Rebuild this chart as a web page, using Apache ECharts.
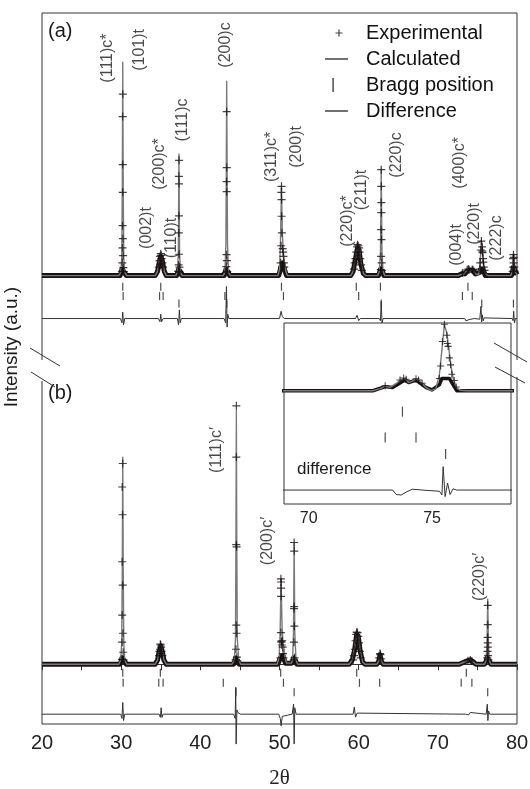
<!DOCTYPE html>
<html>
<head>
<meta charset="utf-8">
<script src="https://cdn.jsdelivr.net/npm/echarts@6/dist/echarts.min.js"></script>
<style>
html, body { margin: 0; padding: 0; background: #fff; }
#chart { width: 530px; height: 789px; }
</style>
</head>
<body>
<div id="chart"></div>
<script>
// ---- data (2θ in degrees, intensity in a.u., baseline = 0) ----

// panel (a): calculated profile
const calcA = [
  [20, 0], [29.7, 0], [29.95, 1.5], [30.07, 8], [30.14, 40], [30.2, 100], [30.26, 40], [30.33, 8], [30.45, 1.5], [30.7, 0],
  [34.3, 0], [34.6, 2], [34.85, 8], [35.0, 10], [35.2, 7], [35.45, 2], [35.7, 0],
  [36.9, 0], [37.1, 1.5], [37.22, 10], [37.3, 57], [37.38, 10], [37.5, 1.5], [37.7, 0],
  [42.9, 0], [43.1, 1.5], [43.23, 15], [43.33, 91], [43.43, 15], [43.56, 1.5], [43.8, 0],
  [49.8, 0], [50.0, 3], [50.12, 15], [50.25, 42], [50.36, 20], [50.48, 11], [50.6, 7], [50.8, 2], [51.0, 0],
  [59.0, 0], [59.3, 2], [59.6, 8], [59.85, 14.5], [60.05, 13.5], [60.3, 6], [60.6, 1], [60.9, 0],
  [62.4, 0], [62.62, 2], [62.76, 12], [62.85, 50], [62.94, 12], [63.08, 2], [63.3, 0],
  [72.6, 0], [72.9, 0.5], [73.1, 1.1], [73.3, 0.8], [73.55, 1.8], [73.75, 2.7], [73.9, 3.0], [74.05, 2.0], [74.15, 2.2],
  [74.35, 2.8], [74.5, 2.4], [74.75, 0.8], [74.95, 0.1], [75.15, 0.4], [75.3, 4], [75.4, 10], [75.5, 16.1], [75.6, 14],
  [75.67, 10.8], [75.77, 6], [75.87, 2.6], [76.0, 0.7], [76.15, 0.1], [76.4, 0],
  [79.2, 0], [79.4, 1.5], [79.5, 6], [79.58, 10], [79.68, 6], [79.8, 1.5], [80, 0.5]
];
// panel (a): experimental points on the peaks
const expA = [
  [30.21, 85], [30.19, 74.5], [30.2, 52], [30.2, 39], [30.18, 23.4], [30.22, 17.3], [30.17, 13], [30.24, 9.4], [30.15, 6], [30.28, 3.7], [30.1, 2], [30.35, 1.9],
  [34.75, 4], [34.85, 7], [34.9, 9], [35.0, 10.3], [35.05, 9.5], [35.1, 8], [35.2, 6], [35.3, 4], [34.95, 5],
  [37.31, 54], [37.29, 46.5], [37.31, 43], [37.3, 28], [37.28, 20], [37.32, 10], [37.26, 5], [37.36, 4], [37.2, 2], [37.42, 1.5],
  [43.33, 76.8], [43.34, 50.6], [43.32, 44], [43.33, 39.3], [43.31, 9.8], [43.36, 7], [43.29, 4.2], [43.4, 2], [43.22, 1.5],
  [50.25, 41.8], [50.24, 39], [50.26, 35.6], [50.27, 27.8], [50.3, 20], [50.4, 12.6], [50.45, 11], [50.5, 9], [50.2, 14], [50.15, 6], [50.55, 6], [50.6, 4],
  [59.5, 6], [59.6, 8], [59.7, 11], [59.8, 13.5], [59.85, 14.5], [59.95, 14], [60.05, 13], [60.1, 11], [60.2, 8], [60.3, 5], [59.4, 3], [60.4, 2.5],
  [62.85, 49.6], [62.86, 41.8], [62.85, 34.2], [62.87, 29.5], [62.84, 21.5], [62.88, 16.9], [62.83, 9], [62.9, 6], [62.8, 2.8], [62.95, 2.5],
  [73.1, 1.2], [73.7, 2.6], [73.85, 3.1], [73.95, 2.8], [74.35, 2.9], [74.45, 2.6], [74.6, 1.8],
  [75.5, 16.2], [75.42, 12], [75.6, 13.5], [75.62, 11.5], [75.65, 10.8], [75.7, 8], [75.75, 6.3], [75.8, 4], [75.9, 2.5], [75.98, 0.9], [75.35, 6], [75.3, 3],
  [79.55, 9.8], [79.5, 8], [79.6, 8.5], [79.57, 6], [79.52, 4], [79.65, 4], [79.45, 2], [79.7, 2]
];
// panel (a): dense experimental band along the background
const bandA = [
  [20, 0], [29.85, 0], [30.0, 1.5], [30.1, 3], [30.35, 3], [30.5, 1], [30.65, 0],
  [34.3, 0], [34.6, 2], [34.85, 7], [35.0, 9], [35.2, 7], [35.45, 2], [35.7, 0],
  [37.0, 0], [37.15, 1.5], [37.25, 3], [37.45, 3], [37.55, 1.5], [37.7, 0],
  [43.0, 0], [43.15, 1.5], [43.25, 3], [43.45, 3], [43.55, 1.5], [43.7, 0],
  [49.9, 0], [50.05, 2], [50.15, 4], [50.4, 6], [50.55, 4], [50.7, 2], [50.9, 0],
  [59.0, 0], [59.3, 2], [59.55, 7], [59.85, 13], [60.05, 12], [60.3, 5], [60.6, 1], [60.9, 0],
  [62.5, 0], [62.65, 1.5], [62.75, 3], [62.95, 3], [63.05, 1.5], [63.2, 0],
  [72.6, 0], [73.1, 1], [73.4, 0.8], [73.9, 2.6], [74.05, 2], [74.35, 2.6], [74.75, 0.8], [75.0, 0.2],
  [75.3, 1.5], [75.4, 3], [75.7, 3], [75.85, 1.5], [76.0, 0],
  [79.3, 0], [79.45, 2], [79.55, 4], [79.7, 4], [79.8, 2], [80, 0.5]
];
// panel (a): difference (obs - calc)
const diffA = [
  [20, 0], [29.9, 0], [30.1, -2], [30.2, 3], [30.3, -3], [30.45, 0],
  [34.7, 0], [34.9, -1.5], [35.0, 2], [35.1, -1.5], [35.3, 0],
  [37.1, 0], [37.25, -3], [37.35, 4], [37.45, -2], [37.6, 0],
  [43.0, 0], [43.2, -2], [43.3, 15], [43.38, -4], [43.47, 2], [43.6, 0],
  [50.0, 0], [50.2, 3.4], [50.35, 1], [50.6, 0],
  [59.6, 0], [59.8, 1.5], [60.0, -1], [60.2, 0],
  [62.6, 0], [62.75, -1], [62.85, 8], [62.95, -2], [63.1, 0],
  [73.4, 0], [73.55, -1.1], [73.75, -1.2], [73.95, -0.5], [74.2, 0.2], [74.6, 0],
  [75.3, -0.3], [75.4, -1.2], [75.45, 5.7], [75.53, -1.6], [75.63, 1.7], [75.73, -1.1], [75.85, 0.3], [76.0, 0],
  [79.4, 0], [79.5, -1], [79.58, 3.4], [79.68, -2], [79.8, 0], [80, 0]
];
// panel (a): Bragg positions, three phases (c*, t, c)
const braggA1 = [30.2, 35.0, 50.25, 59.7, 62.75, 73.8];
const braggA2 = [30.25, 34.85, 35.3, 43.1, 50.5, 60.0, 73.1, 74.35];
const braggA3 = [37.3, 43.35, 62.85, 75.55, 79.55];
// panel (a): reflection labels [2θ, height, text]
const labelsA = [
  [28.34, 101.9, '(111)c*'], [32.38, 105.7, '(101)t'], [33.26, 22.3, '(002)t'], [34.9, 52.3, '(200)c*'],
  [36.42, 17.6, '(110)t'], [37.81, 72.9, '(111)c'], [43.24, 108, '(200)c'], [49.05, 55.6, '(311)c*'],
  [52.21, 60.3, '(200)t'], [58.65, 25.6, '(220)c*'], [60.42, 40.1, '(211)t'], [64.84, 56.5, '(220)c'],
  [72.8, 52.8, '(400)c*'], [72.42, 14.4, '(004)t'], [74.69, 24.2, '(220)t'], [77.47, 17.6, '(222)c']
];

// panel (b)
const calcB = [
  [20, 0], [29.7, 0], [29.95, 2], [30.07, 10], [30.14, 45], [30.2, 97], [30.26, 45], [30.33, 10], [30.45, 2], [30.7, 0],
  [34.3, 0], [34.6, 2], [34.8, 6], [35.0, 9], [35.2, 6], [35.4, 2], [35.7, 0],
  [44.0, 0], [44.3, 2], [44.44, 12], [44.5, 60], [44.55, 119], [44.6, 60], [44.67, 12], [44.85, 2], [45.1, 0],
  [49.7, 0], [49.95, 3], [50.08, 15], [50.2, 40], [50.32, 18], [50.45, 10], [50.55, 8], [50.7, 3], [50.9, 0.5], [51.5, 0.5],
  [51.65, 2], [51.77, 15], [51.85, 57], [51.93, 15], [52.08, 2], [52.3, 0],
  [58.8, 0], [59.2, 2], [59.5, 8], [59.75, 15], [59.95, 14], [60.2, 6], [60.5, 1], [60.8, 0],
  [62.3, 0], [62.55, 1.5], [62.7, 5.2], [62.85, 1.5], [63.1, 0],
  [72.7, 0], [73.2, 0.8], [73.7, 1.6], [74.1, 2], [74.5, 1], [74.8, 0],
  [75.9, 0], [76.1, 2], [76.22, 12], [76.3, 30.4], [76.38, 12], [76.5, 2], [76.7, 0], [80, 0]
];
const expB = [
  [30.2, 94], [30.13, 83], [30.18, 70], [30.13, 48], [30.2, 37], [30.13, 23], [30.22, 14.5], [30.12, 10.3], [30.25, 5.6], [30.1, 2.3], [30.3, 2],
  [34.8, 4], [34.9, 7], [34.95, 9.4], [35.0, 9], [35.05, 8], [35.1, 6], [35.2, 4], [34.85, 6], [35.0, 5],
  [44.55, 121], [44.55, 97], [44.54, 56], [44.58, 55], [44.54, 18.3], [44.58, 14.5], [44.5, 7], [44.62, 3.3], [44.45, 2], [44.7, 1.5],
  [50.18, 40], [50.2, 38.5], [50.19, 35.6], [50.2, 31.8], [50.18, 14.8], [50.22, 10.8], [50.24, 10.3], [50.3, 9], [50.35, 11], [50.4, 8], [50.45, 5], [50.13, 3], [50.5, 3],
  [51.85, 57], [51.86, 53], [51.85, 27], [51.84, 26], [51.87, 17.8], [51.83, 10.3], [51.9, 3], [51.8, 2],
  [59.4, 4], [59.5, 7], [59.6, 11], [59.7, 14], [59.75, 15], [59.85, 14.8], [59.95, 13], [60.05, 10], [60.15, 6], [60.25, 3], [59.3, 2],
  [62.6, 3], [62.7, 5], [62.75, 4.5], [62.8, 2.5],
  [73.8, 1.6], [74.1, 2], [74.3, 1.5],
  [76.3, 27.6], [76.31, 18.5], [76.29, 12.6], [76.3, 10], [76.32, 8], [76.28, 6], [76.35, 4], [76.25, 3], [76.4, 2]
];
const bandB = [
  [20, 0], [29.85, 0], [30.0, 1.5], [30.1, 3], [30.35, 3], [30.5, 1], [30.65, 0],
  [34.3, 0], [34.6, 2], [34.8, 6], [35.0, 8.5], [35.2, 6], [35.4, 2], [35.7, 0],
  [44.2, 0], [44.35, 1.5], [44.45, 3], [44.65, 3], [44.75, 1.5], [44.9, 0],
  [49.8, 0], [49.95, 1.5], [50.1, 3], [50.45, 4], [50.6, 2], [50.75, 0.5], [51.5, 0.5], [51.7, 1.5], [51.78, 3], [51.95, 3], [52.05, 1.5], [52.2, 0],
  [58.8, 0], [59.2, 2], [59.5, 7], [59.75, 14], [59.95, 13], [60.2, 6], [60.5, 1], [60.8, 0],
  [62.3, 0], [62.55, 1.5], [62.7, 4.5], [62.85, 1.5], [63.1, 0],
  [72.7, 0], [73.2, 0.8], [73.7, 1.6], [74.1, 2], [74.5, 1], [74.8, 0],
  [75.9, 0], [76.1, 1.5], [76.22, 3], [76.4, 3], [76.5, 1.5], [76.7, 0], [80, 0]
];
const diffB = [
  [20, 0], [29.95, 0], [30.1, -2], [30.2, 5.5], [30.3, -3], [30.45, 0],
  [34.8, 0], [34.95, -1.5], [35.05, 3], [35.15, -1.5], [35.3, 0],
  [44.2, 0], [44.4, -2], [44.47, 12.6], [44.52, -14], [44.62, 2], [44.8, 0.5], [45.1, 0],
  [49.9, 0], [50.1, -2], [50.2, -5.5], [50.35, -1], [50.6, -1], [51.0, -0.5], [51.6, 0],
  [51.78, 4.7], [51.85, -14], [51.93, 3], [52.1, 0],
  [59.3, 0], [59.45, 3.3], [59.6, -1.4], [59.8, 0.5], [60.0, 0],
  [73.5, 0], [73.7, 0.8], [73.9, -0.3], [74.1, 0.8], [74.3, 0],
  [76.1, 0], [76.25, 4.7], [76.32, -3], [76.4, 1.5], [76.55, 0], [80, 0]
];
const braggB1 = [30.2, 34.95, 50.15, 59.75, 73.6];
const braggB2 = [30.25, 34.75, 35.3, 42.9, 50.5, 60.1, 62.65, 72.95, 74.3];
const braggB3 = [44.5, 51.85, 76.3];
const labelsB = [
  [42.1, 100.3, '(111)c\u2032'], [48.55, 57.7, '(200)c\u2032'], [75.32, 40.9, '(220)c\u2032']
];

// axes
const xMain = { min: 20, max: 80, interval: 10 };
const xInset = { min: 69, max: 78.2 };
const insetTicks = [70, 72.5, 75, 77.5];
const insetTickLabels = [70, 75];

// vertical offsets of the stacked traces (a.u.)
const offsetA = 182;
const diffOffA = -20.1, diffOffB = -23.4, diffOffInset = -24.2;
const rowsA = [-5.2, -9.6, -13.1];
const rowsB = [-4.0, -8.7, -13.1];
const rowsInset = [-5.1, -11.4, -15.4];

// ---- helpers ----
const FONT = 'Liberation Sans';
const CROSS = 'path://M0,3.4h8v1.2h-8zM3.4,0h1.2v8h-1.2z';
const shift = (arr, dy) => arr.map(p => [p[0], p[1] + dy]);
const braggData = (rows, offs) => rows.flatMap((r, i) => r.map(x => [x, offs[i]]));

function panelSeries(idx, calc, exp, band, diff, rows, rowOffs, dy, diffOff, opts) {
  const z = opts.z || 2;
  return [
    { name: 'band', type: 'line', xAxisIndex: idx, yAxisIndex: idx, data: shift(band, dy), showSymbol: false,
      lineStyle: { color: '#1a1212', width: opts.band, join: 'round' }, silent: true, z: z },
    { name: 'Calculated', type: 'line', xAxisIndex: idx, yAxisIndex: idx, data: shift(calc, dy), showSymbol: false,
      color: '#7a7a7a', lineStyle: { color: '#7a7a7a', width: 1.4, join: 'round' }, z: z + 1 },
    { name: 'Experimental', type: 'scatter', xAxisIndex: idx, yAxisIndex: idx, data: shift(exp, dy),
      symbol: CROSS, symbolSize: opts.cross, itemStyle: { color: '#1a1212' }, z: z + 2 },
    { name: 'Bragg position', type: 'scatter', xAxisIndex: idx, yAxisIndex: idx, data: braggData(rows, rowOffs.map(o => o + dy)),
      symbol: 'rect', symbolSize: [1.2, opts.tick], itemStyle: { color: '#222' }, z: z },
    { name: 'Difference', type: 'line', xAxisIndex: idx, yAxisIndex: idx, data: shift(diff, dy + diffOff), showSymbol: false,
      clip: opts.clip, color: '#333', lineStyle: { color: '#333', width: 1, join: 'round' }, z: z + 1 }
  ];
}

function labelSeries(list, dy) {
  return {
    type: 'scatter', xAxisIndex: 0, yAxisIndex: 0, symbolSize: 1, silent: true, z: 6,
    itemStyle: { color: 'transparent' },
    data: list.map(l => ({ name: l[2], value: [l[0], l[1] + dy] })),
    label: { show: true, position: 'inside', rotate: 90, formatter: p => p.name,
      fontSize: 16, color: '#1a1a1a', fontFamily: FONT }
  };
}

const series = [].concat(
  panelSeries(0, calcA, expA, bandA, diffA, [braggA1, braggA2, braggA3], rowsA, offsetA, diffOffA,
    { band: 5, cross: 8, tick: 8, clip: true }),
  panelSeries(0, calcB, expB, bandB, diffB, [braggB1, braggB2, braggB3], rowsB, 0, diffOffB,
    { band: 5, cross: 8, tick: 8, clip: false }),
  panelSeries(1, calcA, expA, bandA, diffA, [braggA1, braggA2, braggA3], rowsInset, 0, diffOffInset,
    { band: 3.5, cross: 7, tick: 10, clip: true, z: 6 }),
  [labelSeries(labelsA, offsetA), labelSeries(labelsB, 0)]
);

const chart = echarts.init(document.getElementById('chart'));
chart.setOption({
  animation: false,
  backgroundColor: '#fff',
  textStyle: { fontFamily: FONT },
  grid: [
    { left: 42, right: 13, top: 13, bottom: 65, show: true, borderColor: '#333', borderWidth: 1,
      containLabel: false, outerBoundsMode: 'none' },
    { left: 284, top: 323, width: 227, height: 181, show: true, backgroundColor: '#fff',
      borderColor: '#333', borderWidth: 1, z: 5, containLabel: false, outerBoundsMode: 'none' }
  ],
  legend: {
    orient: 'vertical', left: 320, top: 18, itemWidth: 36, itemHeight: 14, itemGap: 6,
    selectedMode: false,
    itemStyle: { color: '#111', borderWidth: 0 },
    textStyle: { fontSize: 20, color: '#111', fontFamily: FONT },
    data: [
      { name: 'Experimental', icon: 'path://M0,0M36,14M10.5,6.4h7v1.2h-7zM13.4,3.5h1.2v7h-1.2z' },
      { name: 'Calculated', icon: 'path://M0,0M36,14M0,6.4h23v1.2h-23z' },
      { name: 'Bragg position', icon: 'path://M0,0M36,14M7.4,0h1.4v14h-1.4z' },
      { name: 'Difference', icon: 'path://M0,0M36,14M0,6.4h23v1.2h-23z' }
    ]
  },
  xAxis: [
    { type: 'value', gridIndex: 0, min: xMain.min, max: xMain.max, interval: xMain.interval,
      name: '2\u03b8', nameLocation: 'middle', nameGap: 44,
      nameTextStyle: { fontSize: 21, color: '#222', fontFamily: 'Liberation Serif' },
      axisLine: { show: true, lineStyle: { color: '#333' } },
      axisTick: { show: true, length: 6, lineStyle: { color: '#333' } },
      minorTick: { show: true, splitNumber: 2, length: 6, lineStyle: { color: '#333' } },
      axisLabel: { fontSize: 20, color: '#222', margin: 9 },
      splitLine: { show: false }, minorSplitLine: { show: false } },
    { type: 'value', gridIndex: 1, min: xInset.min, max: xInset.max,
      axisLine: { show: true, lineStyle: { color: '#333' } },
      axisTick: { show: true, length: 4, customValues: insetTicks, lineStyle: { color: '#333' } },
      axisLabel: { fontSize: 16, color: '#222', margin: 7, customValues: insetTickLabels },
      splitLine: { show: false } }
  ],
  yAxis: [
    { type: 'value', gridIndex: 0, min: -28, max: 305, show: false, splitLine: { show: false } },
    { type: 'value', gridIndex: 1, min: -27.6, max: 16.5, show: false, splitLine: { show: false } }
  ],
  graphic: [
    // broken frame on both sides with slash marks
    { type: 'rect', z: 100, shape: { x: 39, y: 360, width: 6, height: 21 }, style: { fill: '#fff' } },
    { type: 'rect', z: 100, shape: { x: 514, y: 360, width: 6, height: 17 }, style: { fill: '#fff' } },
    { type: 'line', z: 101, shape: { x1: 30, y1: 348, x2: 60, y2: 366 }, style: { stroke: '#333', lineWidth: 1 } },
    { type: 'line', z: 101, shape: { x1: 31, y1: 372, x2: 55, y2: 387 }, style: { stroke: '#333', lineWidth: 1 } },
    { type: 'line', z: 101, shape: { x1: 494, y1: 343, x2: 527, y2: 362 }, style: { stroke: '#333', lineWidth: 1 } },
    { type: 'line', z: 101, shape: { x1: 495, y1: 367, x2: 525, y2: 383 }, style: { stroke: '#333', lineWidth: 1 } },
    { type: 'text', z: 101, left: 48, top: 21, style: { text: '(a)', fontSize: 20, fill: '#1a1a1a', fontFamily: FONT } },
    { type: 'text', z: 101, left: 48, top: 383, style: { text: '(b)', fontSize: 20, fill: '#1a1a1a', fontFamily: FONT } },
    { type: 'text', z: 101, x: 12, y: 347, rotation: Math.PI / 2,
      style: { text: 'Intensity (a.u.)', fontSize: 19, fill: '#1a1a1a', fontFamily: FONT, align: 'center', verticalAlign: 'middle' } },
    { type: 'text', z: 101, left: 297, top: 461, style: { text: 'difference', fontSize: 17, fill: '#1a1a1a', fontFamily: FONT } }
  ],
  series: series
});
</script>
</body>
</html>
